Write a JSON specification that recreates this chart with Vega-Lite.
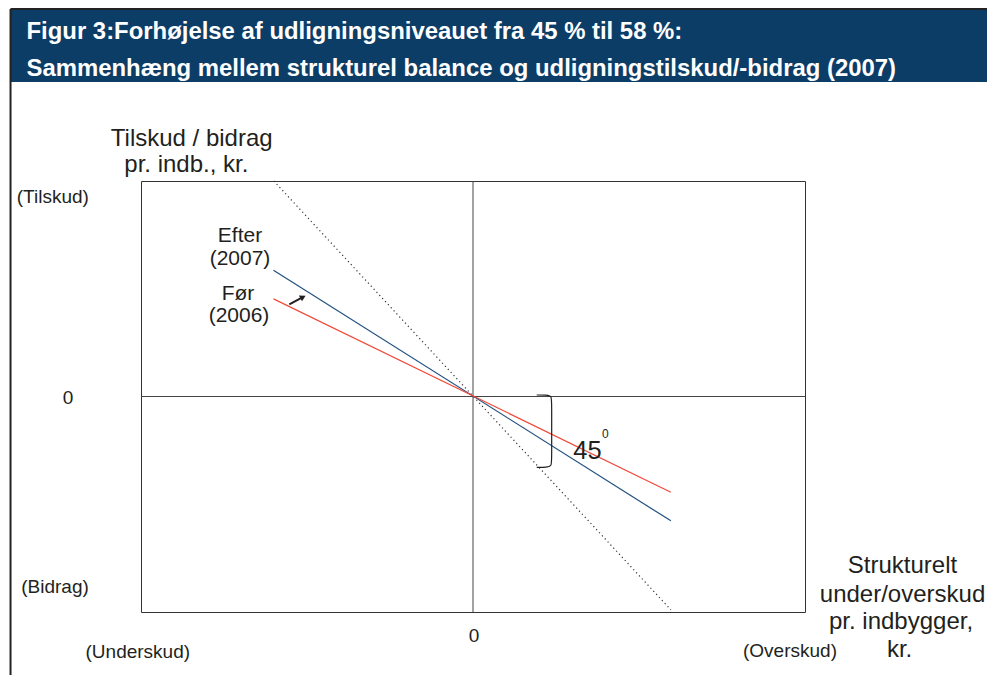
{
  "$schema": "https://vega.github.io/schema/vega-lite/v6.json",
  "width": 664,
  "height": 431,
  "autosize": "none",
  "padding": {"left": 141, "top": 181, "right": 182, "bottom": 63},
  "background": "white",
  "config": {
    "view": {"stroke": "#333333", "strokeWidth": 1},
    "text": {"font": "Liberation Sans", "color": "#231f20"}
  },
  "datasets": {
    "band": [{"x1": -1.3916, "x2": 1.56, "y1": 1.7958, "y2": 1.4594}],
    "border": [
      {"part": "left", "x": -1.393, "y": 1.7981},
      {"part": "left", "x": -1.393, "y": -1.3},
      {"part": "top", "x": -1.393, "y": 1.7981},
      {"part": "top", "x": 1.56, "y": 1.7981}
    ],
    "header": [
      {"label": "Figur 3:Forhøjelse af udligningsniveauet fra 45 % til 58 %:", "x": -1.3449, "y": 1.659},
      {"label": "Sammenhæng mellem strukturel balance og udligningstilskud/-bidrag (2007)", "x": -1.3449, "y": 1.4872}
    ],
    "zero": [{"v": 0}],
    "lines": [
      {"series": "Efter", "x": -0.601, "y": 0.586},
      {"series": "Efter", "x": 0.596, "y": -0.577},
      {"series": "Før", "x": -0.601, "y": 0.453},
      {"series": "Før", "x": 0.596, "y": -0.444}
    ],
    "dotted": [
      {"x": -0.6, "y": 1.0},
      {"x": 0.596, "y": -0.99}
    ],
    "brace": [
      {"i": 1, "x": 0.1919, "y": 0.0070},
      {"i": 2, "x": 0.2220, "y": 0.0070},
      {"i": 3, "x": 0.2370, "y": 0.0023},
      {"i": 4, "x": 0.2370, "y": -0.0255},
      {"i": 5, "x": 0.2370, "y": -0.2947},
      {"i": 6, "x": 0.2370, "y": -0.3225},
      {"i": 7, "x": 0.2220, "y": -0.3285},
      {"i": 8, "x": 0.1919, "y": -0.3285}
    ],
    "arrow": [
      {"x": -0.5533, "y": 0.4278},
      {"x": -0.514, "y": 0.4600}
    ],
    "arrowhead": [{"x": -0.512, "y": 0.4615}],
    "labels24": [
      {"label": "Tilskud / bidrag", "x": -0.8473, "y": 1.1624},
      {"label": "pr. indb., kr.", "x": -0.8635, "y": 1.0432},
      {"label": "Strukturelt", "x": 1.2937, "y": -0.8204},
      {"label": "under/overskud", "x": 1.2937, "y": -0.9522},
      {"label": "pr. indbygger,", "x": 1.2892, "y": -1.0803},
      {"label": "kr.", "x": 1.2850, "y": -1.2074}
    ],
    "labels21": [
      {"label": "Efter", "x": -0.7018, "y": 0.7183},
      {"label": "(2007)", "x": -0.7018, "y": 0.6125},
      {"label": "Før", "x": -0.7078, "y": 0.4478},
      {"label": "(2006)", "x": -0.7048, "y": 0.3434}
    ],
    "labels19": [
      {"label": "(Tilskud)", "x": -1.2657, "y": 0.8965},
      {"label": "0", "x": -1.2199, "y": -0.035},
      {"label": "(Bidrag)", "x": -1.259, "y": -0.9132},
      {"label": "0", "x": 0.003, "y": -1.139},
      {"label": "(Underskud)", "x": -1.0096, "y": -1.2149},
      {"label": "(Overskud)", "x": 0.9548, "y": -1.2102}
    ],
    "deg": [{"label": "45", "x": 0.3449, "y": -0.2914}],
    "sup": [{"label": "0", "x": 0.3985, "y": -0.1905}]
  },
  "layer": [
    {
      "data": {"name": "band"},
      "mark": {"type": "rect", "color": "#0c3d67"},
      "encoding": {
        "x": {"field": "x1", "type": "quantitative", "scale": {"domain": [-1, 1], "nice": false, "zero": false}, "axis": null},
        "x2": {"field": "x2"},
        "y": {"field": "y1", "type": "quantitative", "scale": {"domain": [-1, 1], "nice": false, "zero": false}, "axis": null},
        "y2": {"field": "y2"}
      }
    },
    {
      "data": {"name": "border"},
      "mark": {"type": "line", "color": "#222222", "strokeWidth": 2},
      "encoding": {
        "x": {"field": "x", "type": "quantitative", "scale": {"domain": [-1, 1], "nice": false, "zero": false}, "axis": null},
        "y": {"field": "y", "type": "quantitative", "scale": {"domain": [-1, 1], "nice": false, "zero": false}, "axis": null},
        "detail": {"field": "part"}
      }
    },
    {
      "data": {"name": "header"},
      "mark": {"type": "text", "align": "left", "baseline": "alphabetic", "fontSize": 23.9, "fontWeight": "bold", "color": "white"},
      "encoding": {
        "x": {"field": "x", "type": "quantitative", "scale": {"domain": [-1, 1], "nice": false, "zero": false}, "axis": null},
        "y": {"field": "y", "type": "quantitative", "scale": {"domain": [-1, 1], "nice": false, "zero": false}, "axis": null},
        "text": {"field": "label"}
      }
    },
    {
      "data": {"name": "zero"},
      "mark": {"type": "rule", "color": "#444444", "strokeWidth": 1},
      "encoding": {
        "x": {"field": "v", "type": "quantitative", "scale": {"domain": [-1, 1], "nice": false, "zero": false}, "axis": null}
      }
    },
    {
      "data": {"name": "zero"},
      "mark": {"type": "rule", "color": "#444444", "strokeWidth": 1},
      "encoding": {
        "y": {"field": "v", "type": "quantitative", "scale": {"domain": [-1, 1], "nice": false, "zero": false}, "axis": null}
      }
    },
    {
      "data": {"name": "dotted"},
      "mark": {"type": "line", "color": "#333333", "strokeWidth": 1.2, "strokeDash": [1.2, 3]},
      "encoding": {
        "x": {"field": "x", "type": "quantitative", "scale": {"domain": [-1, 1], "nice": false, "zero": false}, "axis": null},
        "y": {"field": "y", "type": "quantitative", "scale": {"domain": [-1, 1], "nice": false, "zero": false}, "axis": null}
      }
    },
    {
      "data": {"name": "lines"},
      "mark": {"type": "line", "strokeWidth": 1.2},
      "encoding": {
        "x": {"field": "x", "type": "quantitative", "scale": {"domain": [-1, 1], "nice": false, "zero": false}, "axis": null},
        "y": {"field": "y", "type": "quantitative", "scale": {"domain": [-1, 1], "nice": false, "zero": false}, "axis": null},
        "color": {"field": "series", "type": "nominal", "scale": {"domain": ["Efter", "Før"], "range": ["#1f4f7f", "#f04b3a"]}, "legend": null}
      }
    },
    {
      "data": {"name": "brace"},
      "mark": {"type": "line", "color": "#231f20", "strokeWidth": 1.2, "interpolate": "basis"},
      "encoding": {
        "x": {"field": "x", "type": "quantitative", "scale": {"domain": [-1, 1], "nice": false, "zero": false}, "axis": null},
        "y": {"field": "y", "type": "quantitative", "scale": {"domain": [-1, 1], "nice": false, "zero": false}, "axis": null},
        "order": {"field": "i", "type": "quantitative"}
      }
    },
    {
      "data": {"name": "arrow"},
      "mark": {"type": "line", "color": "#231f20", "strokeWidth": 2},
      "encoding": {
        "x": {"field": "x", "type": "quantitative", "scale": {"domain": [-1, 1], "nice": false, "zero": false}, "axis": null},
        "y": {"field": "y", "type": "quantitative", "scale": {"domain": [-1, 1], "nice": false, "zero": false}, "axis": null}
      }
    },
    {
      "data": {"name": "arrowhead"},
      "mark": {"type": "point", "shape": "triangle-up", "filled": true, "color": "#231f20", "size": 45, "angle": 62, "opacity": 1},
      "encoding": {
        "x": {"field": "x", "type": "quantitative", "scale": {"domain": [-1, 1], "nice": false, "zero": false}, "axis": null},
        "y": {"field": "y", "type": "quantitative", "scale": {"domain": [-1, 1], "nice": false, "zero": false}, "axis": null}
      }
    },
    {
      "data": {"name": "labels24"},
      "mark": {"type": "text", "align": "center", "baseline": "alphabetic", "fontSize": 24},
      "encoding": {
        "x": {"field": "x", "type": "quantitative", "scale": {"domain": [-1, 1], "nice": false, "zero": false}, "axis": null},
        "y": {"field": "y", "type": "quantitative", "scale": {"domain": [-1, 1], "nice": false, "zero": false}, "axis": null},
        "text": {"field": "label"}
      }
    },
    {
      "data": {"name": "labels21"},
      "mark": {"type": "text", "align": "center", "baseline": "alphabetic", "fontSize": 21},
      "encoding": {
        "x": {"field": "x", "type": "quantitative", "scale": {"domain": [-1, 1], "nice": false, "zero": false}, "axis": null},
        "y": {"field": "y", "type": "quantitative", "scale": {"domain": [-1, 1], "nice": false, "zero": false}, "axis": null},
        "text": {"field": "label"}
      }
    },
    {
      "data": {"name": "labels19"},
      "mark": {"type": "text", "align": "center", "baseline": "alphabetic", "fontSize": 19},
      "encoding": {
        "x": {"field": "x", "type": "quantitative", "scale": {"domain": [-1, 1], "nice": false, "zero": false}, "axis": null},
        "y": {"field": "y", "type": "quantitative", "scale": {"domain": [-1, 1], "nice": false, "zero": false}, "axis": null},
        "text": {"field": "label"}
      }
    },
    {
      "data": {"name": "deg"},
      "mark": {"type": "text", "align": "center", "baseline": "alphabetic", "fontSize": 25.5},
      "encoding": {
        "x": {"field": "x", "type": "quantitative", "scale": {"domain": [-1, 1], "nice": false, "zero": false}, "axis": null},
        "y": {"field": "y", "type": "quantitative", "scale": {"domain": [-1, 1], "nice": false, "zero": false}, "axis": null},
        "text": {"field": "label"}
      }
    },
    {
      "data": {"name": "sup"},
      "mark": {"type": "text", "align": "center", "baseline": "alphabetic", "fontSize": 12},
      "encoding": {
        "x": {"field": "x", "type": "quantitative", "scale": {"domain": [-1, 1], "nice": false, "zero": false}, "axis": null},
        "y": {"field": "y", "type": "quantitative", "scale": {"domain": [-1, 1], "nice": false, "zero": false}, "axis": null},
        "text": {"field": "label"}
      }
    }
  ]
}
